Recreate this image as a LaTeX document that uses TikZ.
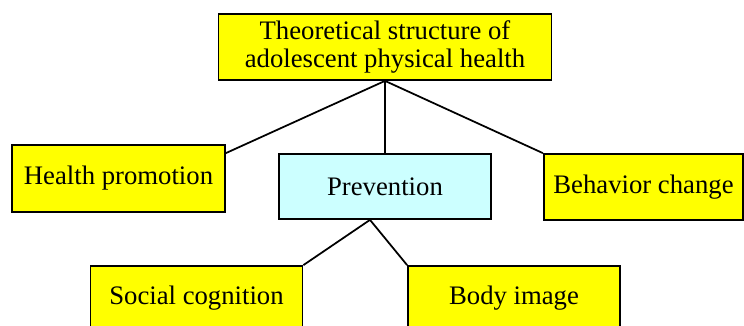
\documentclass[tikz,border=0pt]{standalone}
\usepackage{fontspec}
\setmainfont{Liberation Serif}
\definecolor{Yel}{HTML}{FFFF00}
\definecolor{Ice}{HTML}{CCFFFF}

\begin{document}
\begin{tikzpicture}[
    box/.style={draw=black,line width=1pt,fill=Yel,minimum width=4.24cm,
      minimum height=1.32cm,inner sep=0pt,align=center,
      font=\fontsize{15.2}{15.6}\selectfont},
    link/.style={line width=1pt,black}
  ]
    \useasboundingbox (0,0) rectangle (14.88,-6.52);
    \node[box,minimum width=6.66cm] (theory) at (7.70,-0.94)
      {Theoretical structure of\\adolescent physical health};
    \node[box,minimum width=4.26cm,minimum height=1.34cm] (promo) at (2.37,-3.57) {Health promotion};
    \node[box,fill=Ice,minimum height=1.30cm] (prev) at (7.70,-3.73) {Prevention};
    \node[box,minimum width=3.99cm] (behav) at (12.87,-3.74) {Behavior change};
    \node[box,minimum height=1.30cm] (social) at (3.93,-5.97) {Social cognition};
    \node[box,minimum height=1.30cm] (body) at (10.28,-5.97) {Body image};
    \draw[link] (theory.south) -- ([yshift=-0.18cm]promo.north east);
    \draw[link] (theory.south) -- (prev.north);
    \draw[link] (theory.south) -- (behav.north west);
    \draw[link] ([xshift=-0.3cm]prev.south) -- (social.north east);
    \draw[link] ([xshift=-0.3cm]prev.south) -- (body.north west);
  \end{tikzpicture}
\end{document}
